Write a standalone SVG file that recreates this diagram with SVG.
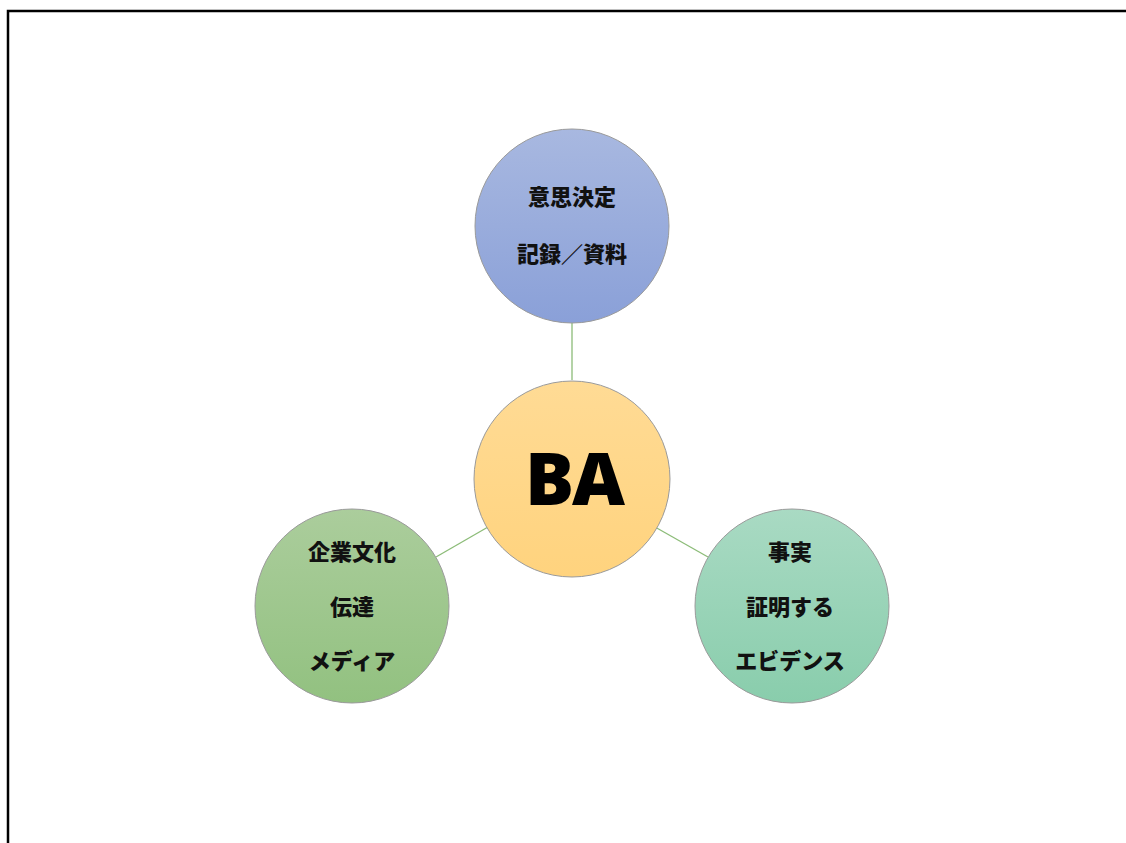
<svg xmlns="http://www.w3.org/2000/svg" width="1126" height="843" viewBox="0 0 1126 843">
<defs>
<linearGradient id="gBlue" x1="0" y1="0" x2="0" y2="1"><stop offset="0" stop-color="#a8b8e0"/><stop offset="1" stop-color="#8aa0d8"/></linearGradient>
<linearGradient id="gYellow" x1="0" y1="0" x2="0" y2="1"><stop offset="0" stop-color="#ffdb95"/><stop offset="1" stop-color="#ffd37e"/></linearGradient>
<linearGradient id="gGreen" x1="0" y1="0" x2="0" y2="1"><stop offset="0" stop-color="#abcd9c"/><stop offset="1" stop-color="#92c180"/></linearGradient>
<linearGradient id="gTeal" x1="0" y1="0" x2="0" y2="1"><stop offset="0" stop-color="#a9dac3"/><stop offset="1" stop-color="#89cdac"/></linearGradient>
</defs>
<style>
.c{stroke:#9a9a9a;stroke-width:1}
.t{font-family:"Noto Sans CJK JP","Noto Sans",sans-serif;font-weight:900;font-size:22px;fill:#111;text-anchor:middle}
.ba{font-family:"Noto Sans","Liberation Sans",sans-serif;font-weight:900;font-size:73px;letter-spacing:-2px;fill:#000;text-anchor:middle}
.ln{stroke:#8cbc78;stroke-width:1.3;fill:none}
</style>
<rect x="0" y="0" width="1126" height="843" fill="#fff"/>
<path d="M8,844 V11 H1127" fill="none" stroke="#000" stroke-width="2.5"/>
<g id="connectors">
<line class="ln" x1="572" y1="323" x2="572" y2="380"/>
<line class="ln" x1="436" y1="557" x2="488" y2="527"/>
<line class="ln" x1="655" y1="527" x2="708" y2="557"/>
</g>
<g id="top">
<circle class="c" cx="572" cy="226" r="97" fill="url(#gBlue)"/>
<text class="t" x="572" y="205">意思決定</text>
<text class="t" x="572" y="262">記録／資料</text>
</g>
<g id="center">
<circle class="c" cx="572" cy="479" r="98" fill="url(#gYellow)"/>
<text class="ba" x="574" y="505">BA</text>
</g>
<g id="left">
<circle class="c" cx="352" cy="606" r="97" fill="url(#gGreen)"/>
<text class="t" x="352" y="560">企業文化</text>
<text class="t" x="352" y="615">伝達</text>
<text class="t" x="352" y="669">メディア</text>
</g>
<g id="right">
<circle class="c" cx="792" cy="606" r="97" fill="url(#gTeal)"/>
<text class="t" x="790" y="560">事実</text>
<text class="t" x="790" y="615">証明する</text>
<text class="t" x="790" y="669">エビデンス</text>
</g>
</svg>
